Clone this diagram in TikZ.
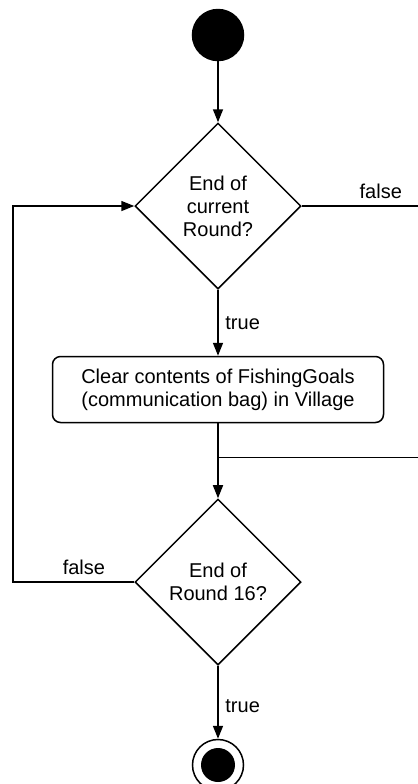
\documentclass[tikz,border=0pt]{standalone}
\usepackage{fontspec}
\setmainfont{Liberation Sans}
\usetikzlibrary{shapes.geometric, arrows.meta, positioning}

\begin{document}
\begin{tikzpicture}[
  font=\fontsize{10pt}{11.5pt}\selectfont,
  line width=0.75pt,
  startnode/.style={circle, draw, fill=black, minimum size=25.5pt, inner sep=0pt},
  endnode/.style={circle, draw, fill=white, minimum size=25.5pt, inner sep=0pt},
  enddot/.style={circle, fill=black, minimum size=17pt, inner sep=0pt},
  decision/.style={diamond, draw, minimum width=83pt, minimum height=83pt,
                   inner sep=0pt, align=center},
  action/.style={draw, rounded corners=4pt, minimum width=165.5pt,
                 minimum height=33pt, align=center},
  arr/.style={-{Triangle[length=6.5pt, width=5pt]}},
]
\useasboundingbox (0,0) rectangle (209pt,-392pt);
\coordinate (edge) at (209pt,0);
\coordinate (loopx) at (6.5pt,0);

%% --- Start ---
\node[startnode] (start) at (109pt,-17.5pt) {};

%% --- Round loop ---
\node[decision, below=30.5pt of start] (round) {End of\\current\\Round?};
\node[action, below=33pt of round] (clear) {Clear contents of FishingGoals\\(communication bag) in Village};
\coordinate[below=17pt of clear.south] (join);
\node[decision, below=37.5pt of clear] (last) {End of\\Round 16?};

%% --- End ---
\node[endnode, below=36.5pt of last] (stop) {};
\node[enddot] (stopdot) at (stop) {};

\draw[arr] (start) -- (round);
\draw[arr] (round) -- node[right] {true} (clear);
\draw[arr] (clear) -- (last);
\draw[arr] (last) -- node[right, pos=0.55] {true} (stop);

%% --- Branches ---
\draw (round.east) -- node[above, pos=0.68] {false} (round.east -| edge);
\draw (join) -- (join -| edge);
\draw[arr] (last.west) -- node[above, pos=0.415] {false} (last.west -| loopx) |- (round.west);

\end{tikzpicture}
\end{document}
